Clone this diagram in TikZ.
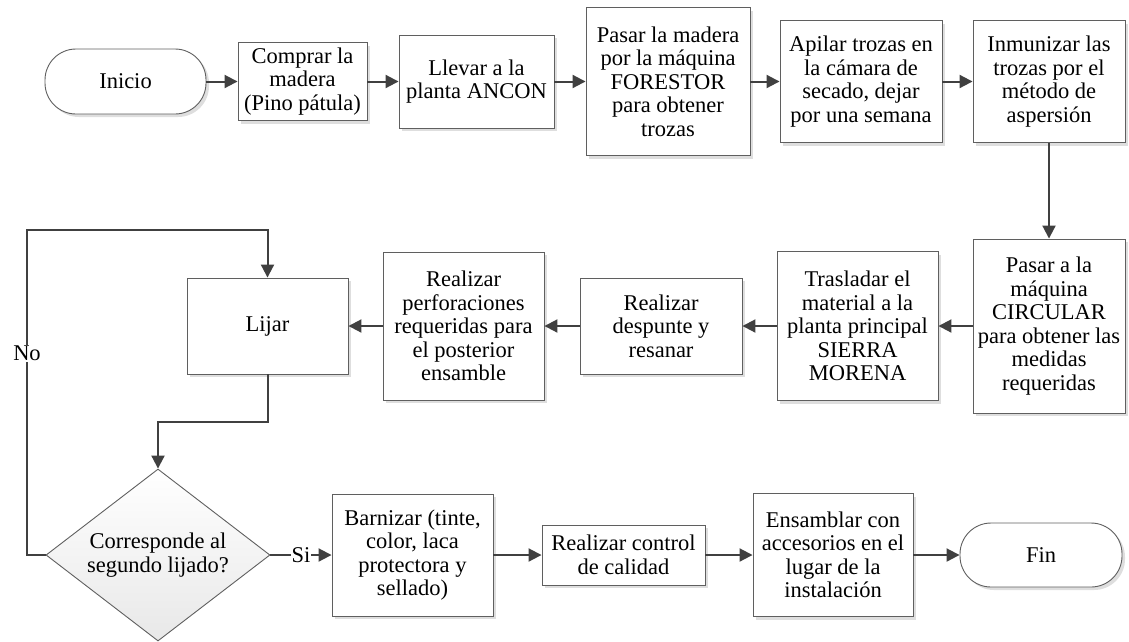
\documentclass[tikz,border=0pt]{standalone}
\usepackage{fontspec}
\setmainfont{Liberation Serif}
\usetikzlibrary{arrows.meta,shapes.geometric,shadows}
\definecolor{linec}{HTML}{404040}
\definecolor{boxc}{HTML}{5F5F5F}
\definecolor{shadc}{HTML}{DEDEDE}
\begin{document}
\begin{tikzpicture}[x=1pt,y=-1pt,
  every node/.style={font=\fontsize{22.5}{23.5}\selectfont, align=center, text=black},
  stepbox/.style={rectangle, draw=boxc, line width=0.9pt, fill=white, inner sep=0pt,
    general shadow={fill=shadc, shadow xshift=3pt, shadow yshift=-3pt}},
  term/.style={stepbox, rounded corners=31pt},
  decision/.style={diamond, draw=boxc, line width=0.9pt, inner sep=0pt, aspect=1.3,
    top color=white, middle color=white, bottom color=black!9},
  flow/.style={draw=linec, line width=2pt, -{Triangle[length=13pt,width=13pt]}},
  lbl/.style={fill=white, inner sep=1pt}
]
\useasboundingbox (0,0) rectangle (1129,641);

% Row 1
\node[term, minimum width=161pt, minimum height=65pt] (inicio) at (125.5,81.5) {Inicio};
\node[stepbox, minimum width=129pt, minimum height=78pt] (b1) at (302.5,81.5) {Comprar la\\madera\\(Pino pátula)};
\node[stepbox, minimum width=155pt, minimum height=93pt] (b2) at (476.5,81.5) {Llevar a la\\planta ANCON};
\node[stepbox, minimum width=164pt, minimum height=148pt] (b3) at (668,81.5) {Pasar la madera\\por la máquina\\FORESTOR\\para obtener\\trozas};
\node[stepbox, minimum width=162pt, minimum height=122pt] (b4) at (861,81.5) {Apilar trozas en\\la cámara de\\secado, dejar\\por una semana};
\node[stepbox, minimum width=152pt, minimum height=122pt] (b5) at (1049,81.5) {Inmunizar las\\trozas por el\\método de\\aspersión};

% Row 2
\node[stepbox, minimum width=152pt, minimum height=174pt] (b6) at (1049,326) {Pasar a la\\máquina\\CIRCULAR\\para obtener las\\medidas\\requeridas};
\node[stepbox, minimum width=161pt, minimum height=149pt] (b7) at (857.5,326) {Trasladar el\\material a la\\planta principal\\SIERRA\\MORENA};
\node[stepbox, minimum width=162pt, minimum height=96pt] (b8) at (661,326) {Realizar\\despunte y\\resanar};
\node[stepbox, minimum width=161pt, minimum height=148pt] (b9) at (463.5,326) {Realizar\\perforaciones\\requeridas para\\el posterior\\ensamble};
\node[stepbox, minimum width=161pt, minimum height=96pt] (lijar) at (267.5,326) {Lijar};

% Row 3
\node[decision, minimum width=224pt, minimum height=172pt] (dec) at (158,555) {Corresponde al\\segundo lijado?};
\node[stepbox, minimum width=161pt, minimum height=122pt] (barn) at (412.5,555) {Barnizar (tinte,\\color, laca\\protectora y\\sellado)};
\node[stepbox, minimum width=163pt, minimum height=60pt] (ctrl) at (623.5,555) {Realizar control\\de calidad};
\node[stepbox, minimum width=160pt, minimum height=123pt] (ens) at (833,555) {Ensamblar con\\accesorios en el\\lugar de la\\instalación};
\node[term, minimum width=162pt, minimum height=64pt] (fin) at (1041,555) {Fin};

% helper coordinates
\coordinate (c1) at (267.5,422);
\coordinate (c2) at (158,422);
\coordinate (n1) at (27,555);
\coordinate (n2) at (27,230);
\coordinate (n3) at (267.5,230);

% connectors
\draw[flow] (inicio) -- (b1);
\draw[flow] (b1) -- (b2);
\draw[flow] (b2) -- (b3);
\draw[flow] (b3) -- (b4);
\draw[flow] (b4) -- (b5);
\draw[flow] (b5) -- (b6);
\draw[flow] (b6) -- (b7);
\draw[flow] (b7) -- (b8);
\draw[flow] (b8) -- (b9);
\draw[flow] (b9) -- (lijar);
\draw[flow] (lijar.south) -- (c1) -- (c2) -- (dec.north);
\draw[flow] (dec.west) -- (n1) -- node[lbl, pos=0.62] (no) {No} (n2) -- (n3) -- (lijar.north);
\draw[flow] (dec.east) -- node[lbl, pos=0.5] (si) {Si} (barn.west);
\draw[flow] (barn) -- (ctrl);
\draw[flow] (ctrl) -- (ens);
\draw[flow] (ens) -- (fin);
\end{tikzpicture}
\end{document}
